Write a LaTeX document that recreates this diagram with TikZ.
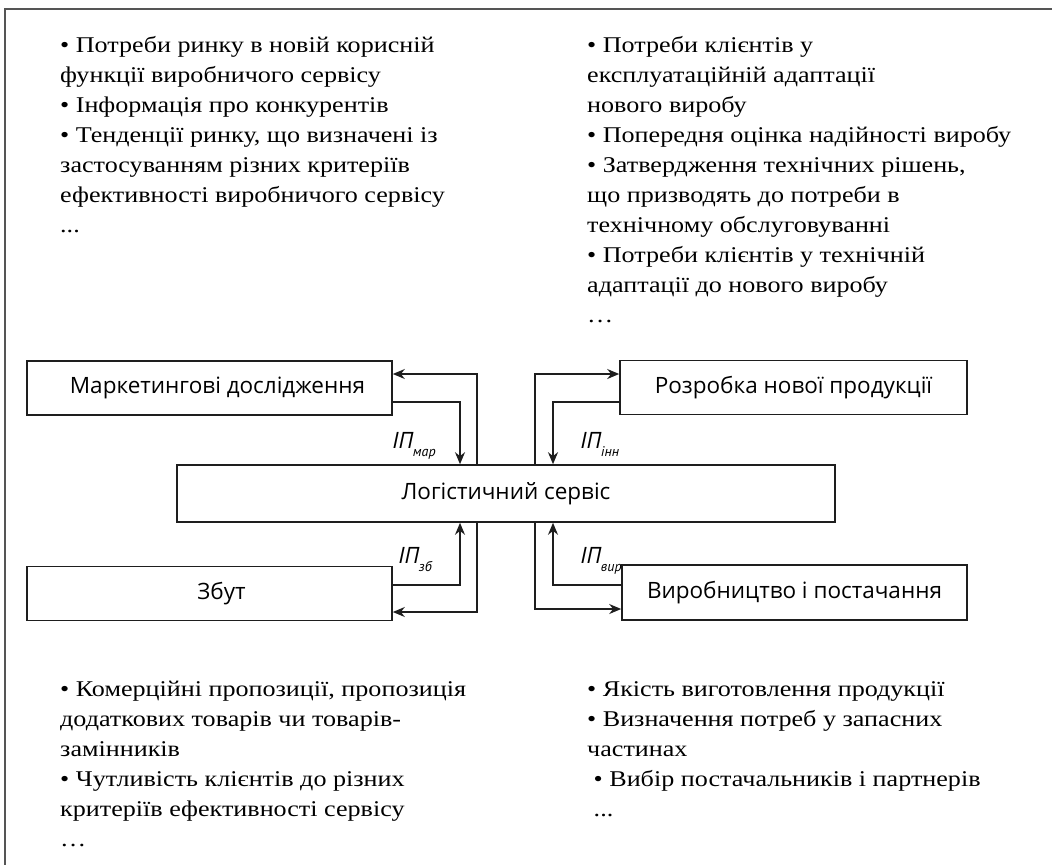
\documentclass[tikz,border=0pt]{standalone}
\usepackage{fontspec}
\setmainfont{Liberation Serif}[FakeStretch=1.16]
\newfontfamily\boxfont{Open Sans}
\newfontfamily\lblfont{PT Sans}
\definecolor{frameline}{HTML}{555555}
\definecolor{inkline}{HTML}{1E1E1E}
\usetikzlibrary{arrows.meta, positioning, calc}

\begin{document}
\begin{tikzpicture}[
  x=1pt, y=-1pt,
  box/.style={draw=inkline, line width=1.6pt, minimum height=54pt, inner sep=0pt,
    font=\boxfont\fontsize{22.5}{26}\selectfont},
  note/.style={anchor=north west, align=left, inner sep=0pt,
    font=\fontsize{22.5}{30}\selectfont},
  arr/.style={-{Stealth[length=12pt, width=10pt]}, line width=1.6pt, draw=inkline},
  lbl/.style={anchor=base west, inner sep=0pt,
    font=\lblfont\itshape\fontsize{23}{26}\selectfont},
]
\newcommand{\ipsub}[1]{\raisebox{-0.35em}{\fontsize{14}{14}\selectfont #1}}
\useasboundingbox (0,0) rectangle (1052,865);

% outer frame (only top and left edges are visible)
\draw[frameline, line width=1.5pt] (1052,9) -- (5,9) -- (5,865);

% text blocks
\node[note] (ntl) at (60,36) {• Потреби ринку в новій корисній\\
  функції виробничого сервісу\\
  • Інформація про конкурентів\\
  • Тенденції ринку, що визначені із\\
  застосуванням різних критеріїв\\
  ефективності виробничого сервісу\\
  ...};
\node[note] (ntr) at (587,36) {• Потреби клієнтів у\\
  експлуатаційній адаптації\\
  нового виробу\\
  • Попередня оцінка надійності виробу\\
  • Затвердження технічних рішень,\\
  що призводять до потреби в\\
  технічному обслуговуванні\\
  • Потреби клієнтів у технічній\\
  адаптації до нового виробу\\
  …};
\node[note] (nbl) at (60,681) {• Комерційні пропозиції, пропозиція\\
  додаткових товарів чи товарів-\\
  замінників\\
  • Чутливість клієнтів до різних\\
  критеріїв ефективності сервісу\\
  …};
\node[note] (nbr) at (587,681) {• Якість виготовлення продукції\\
  • Визначення потреб у запасних\\
  частинах\\
  \ • Вибір постачальників і партнерів\\
  \ ...};

% boxes
\node[box, minimum width=365pt] (mar) at (209.5,388) {\hspace*{16pt}Маркетингові дослідження};
\node[box, minimum width=347pt] (rozr) at (793.5,387.5) {Розробка нової продукції};
\node[box, minimum width=658pt, minimum height=57pt] (log) at (506,493.5) {Логістичний сервіс};
\node[box, minimum width=365pt] (zbut) at (209.5,593.5) {\hspace*{24pt}Збут};
\node[box, minimum width=345pt, minimum height=55pt] (vyr) at (794.5,592.5) {Виробництво і постачання};

% flows
\draw[arr] ([xshift=-29pt]log.north) |- ([yshift=14pt]mar.east);
\draw[arr] ([yshift=-14pt]mar.east) -| ([xshift=-46pt]log.north);
\draw[arr] ([xshift=29pt]log.north) |- ([yshift=13.5pt]rozr.west);
\draw[arr] ([yshift=-14.5pt]rozr.west) -| ([xshift=47pt]log.north);
\draw[arr] ([yshift=8.5pt]zbut.east) -| ([xshift=-46pt]log.south);
\draw[arr] ([xshift=-29pt]log.south) |- ([yshift=-18.5pt]zbut.east);
\draw[arr] ([yshift=7.5pt]vyr.west) -| ([xshift=47pt]log.south);
\draw[arr] ([xshift=29pt]log.south) |- ([yshift=-16.5pt]vyr.west);

% flow labels
\node[lbl] (lmar) at (392,448) {ІП\ipsub{мар}};
\node[lbl] (linn) at (580,448) {ІП\ipsub{інн}};
\node[lbl] (lzb) at (398,563) {ІП\ipsub{зб}};
\node[lbl] (lvyr) at (580,563) {ІП\ipsub{вир}};
\end{tikzpicture}
\end{document}
